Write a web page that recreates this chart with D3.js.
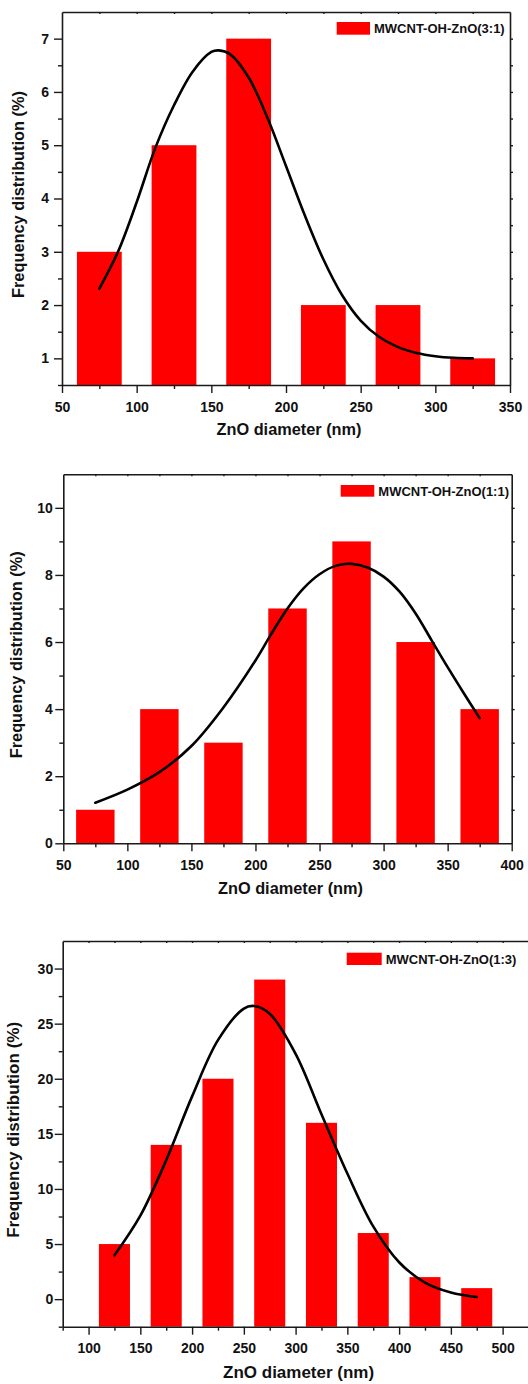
<!DOCTYPE html>
<html>
<head>
<meta charset="utf-8">
<script src="https://cdn.jsdelivr.net/npm/d3@7"></script>
<style>
  body { margin: 0; background: #fff; }
  svg { display: block; }
  text { font-family: "Liberation Sans", Arial, sans-serif; font-weight: bold; fill: #111; }
</style>
</head>
<body>
<svg id="chart" width="528" height="1384"></svg>
<script>
// histogram bins (centre of each 30 nm bin) and frequencies
const binWidth = 30;

const bins1 = [75, 125, 175, 225, 275, 325];
const freq1 = [3, 5, 7, 2, 2, 1];
const fitX1 = [75, 87.5, 100, 112.5, 125, 137.5, 150, 155, 162.5, 175, 187.5, 200, 212.5, 225, 237.5, 250, 262.5, 275, 287.5, 300, 312.5, 325];
const fitY1 = [2.31, 3.0, 3.93, 4.95, 5.75, 6.38, 6.75, 6.78, 6.71, 6.27, 5.52, 4.61, 3.69, 2.86, 2.19, 1.71, 1.40, 1.21, 1.1, 1.04, 1.01, 1.0];

const bins2 = [75, 125, 175, 225, 275, 325, 375];
const freq2 = [1, 4, 3, 7, 9, 6, 4];
const fitX2 = [75, 100, 125, 150, 175, 200, 212.5, 225, 237.5, 250, 262.5, 275, 287.5, 300, 312.5, 325, 337.5, 350, 362.5, 375];
const fitY2 = [1.21, 1.6, 2.12, 2.9, 4.05, 5.45, 6.25, 7.0, 7.6, 8.02, 8.27, 8.33, 8.22, 7.95, 7.5, 6.85, 6.05, 5.25, 4.48, 3.73];

const bins3 = [125, 175, 225, 275, 325, 375, 425, 475];
const freq3 = [5, 14, 20, 29, 16, 6, 2, 1];
const fitX3 = [125, 150, 175, 200, 225, 250, 260, 275, 300, 325, 350, 375, 400, 425, 450, 475];
const fitY3 = [3.98, 7.57, 12.61, 18.4, 23.5, 26.37, 26.6, 25.9, 22.26, 16.78, 11.4, 6.6, 3.35, 1.5, 0.6, 0.19];

const xTicks1 = [50, 100, 150, 200, 250, 300, 350];
const yTicks1 = [1, 2, 3, 4, 5, 6, 7];
const xTicks2 = [50, 100, 150, 200, 250, 300, 350, 400];
const yTicks2 = [0, 2, 4, 6, 8, 10];
const xTicks3 = [100, 150, 200, 250, 300, 350, 400, 450, 500];
const yTicks3 = [0, 5, 10, 15, 20, 25, 30];

const legendLabels = ['MWCNT-OH-ZnO(3:1)', 'MWCNT-OH-ZnO(1:1)', 'MWCNT-OH-ZnO(1:3)'];
const xTitle = 'ZnO diameter (nm)';
const yTitle = 'Frequency distribution (%)';

const font = '"Liberation Sans", Arial, sans-serif';
const axisColor = '#1a1a1a';

const panels = [
  { bins: bins1, freq: freq1, fitX: fitX1, fitY: fitY1, xTicks: xTicks1, yTicks: yTicks1,
    xDomain: [50, 350], yDomain: [0.5, 7.5], yStep: 0.5, legend: legendLabels[0],
    left: 62, right: 510, top: 12, bottom: 385, labelGap: 13,
    leg: { x: 336.7, y: 22, w: 33.3, h: 12.7, tx: 374, ty: 33 },
    yTitleX: 24, yTitleLen: 207, xTitleY: 435, xTitleLen: 145 },
  { bins: bins2, freq: freq2, fitX: fitX2, fitY: fitY2, xTicks: xTicks2, yTicks: yTicks2,
    xDomain: [50, 400], yDomain: [0, 11], yStep: 1, legend: legendLabels[1],
    left: 63.3, right: 511.7, top: 474.3, bottom: 843.3, labelGap: 10.5,
    leg: { x: 340.7, y: 485, w: 33.6, h: 11.7, tx: 378.3, ty: 496 },
    yTitleX: 22, yTitleLen: 207, xTitleY: 894, xTitleLen: 145 },
  { bins: bins3, freq: freq3, fitX: fitX3, fitY: fitY3, xTicks: xTicks3, yTicks: yTicks3,
    xDomain: [75, 525], yDomain: [-2.5, 32.5], yStep: 2.5, legend: legendLabels[2],
    left: 62.7, right: 528.5, top: 941, bottom: 1326.7, labelGap: 9.5,
    leg: { x: 346.7, y: 952.7, w: 35, h: 12.3, tx: 385.7, ty: 964 },
    yTitleX: 19, yTitleLen: 216, xTitleY: 1378, xTitleLen: 151 }
];

const svg = d3.select('#chart');

function styleAxis(g, size) {
  g.attr('font-size', size).attr('font-family', font).attr('font-weight', 'bold');
  g.selectAll('.domain').attr('stroke', axisColor).attr('stroke-width', 1.6);
  g.selectAll('.tick line').attr('stroke', axisColor).attr('stroke-width', 1.4);
  g.selectAll('.tick text').attr('fill', '#111');
}

panels.forEach((p) => {
  const x = d3.scaleLinear().domain(p.xDomain).range([p.left, p.right]);
  const y = d3.scaleLinear().domain(p.yDomain).range([p.bottom, p.top]);
  const g = svg.append('g');

  // bars
  g.append('g')
    .selectAll('rect')
    .data(d3.zip(p.bins, p.freq))
    .join('rect')
    .attr('x', (d) => x(d[0] - binWidth / 2))
    .attr('width', (d) => x(d[0] + binWidth / 2) - x(d[0] - binWidth / 2))
    .attr('y', (d) => y(d[1]))
    .attr('height', (d) => y(p.yDomain[0]) - y(d[1]))
    .attr('fill', '#ff0000');

  // fitted curve
  const line = d3.line()
    .x((d) => x(d[0]))
    .y((d) => y(d[1]))
    .curve(d3.curveCatmullRom.alpha(0.5));

  g.append('path')
    .datum(d3.zip(p.fitX, p.fitY))
    .attr('d', line)
    .attr('fill', 'none')
    .attr('stroke', '#000')
    .attr('stroke-width', 2.6)
    .attr('stroke-linecap', 'round');

  const xMinor = d3.range(p.xDomain[0], p.xDomain[1] + 0.01, 25).filter((v) => !p.xTicks.includes(v));
  const yAll = d3.range(p.yDomain[0], p.yDomain[1] - 0.01, p.yStep);
  const yMinor = yAll.filter((v) => !p.yTicks.some((t) => Math.abs(t - v) < 1e-6));

  // bottom axis
  const bx = g.append('g')
    .attr('transform', `translate(0,${p.bottom})`)
    .call(d3.axisBottom(x).tickValues(p.xTicks).tickFormat(d3.format('d')).tickSize(8).tickSizeOuter(0).tickPadding(8.7));
  styleAxis(bx, 14);
  const bxm = g.append('g')
    .attr('transform', `translate(0,${p.bottom})`)
    .call(d3.axisBottom(x).tickValues(xMinor).tickSize(4).tickFormat(''));
  bxm.select('.domain').remove();
  styleAxis(bxm, 14);

  // left axis
  const ly = g.append('g')
    .attr('transform', `translate(${p.left},0)`)
    .call(d3.axisLeft(y).tickValues(p.yTicks).tickFormat(d3.format('d')).tickSize(8).tickSizeOuter(0).tickPadding(p.labelGap - 8));
  styleAxis(ly, 14);
  const lym = g.append('g')
    .attr('transform', `translate(${p.left},0)`)
    .call(d3.axisLeft(y).tickValues(yMinor).tickSize(4).tickFormat(''));
  lym.select('.domain').remove();
  styleAxis(lym, 14);

  // top axis, small inward ticks
  const tx = g.append('g')
    .attr('transform', `translate(0,${p.top})`)
    .call(d3.axisBottom(x).tickValues(d3.range(p.xDomain[0] + 25, p.xDomain[1], 25)).tickSize(2).tickSizeOuter(0).tickFormat(''));
  styleAxis(tx, 14);

  // right axis
  const ry = g.append('g')
    .attr('transform', `translate(${p.right},0)`)
    .call(d3.axisRight(y).tickValues(yAll.slice(1)).tickSize(3).tickSizeOuter(0).tickFormat(''));
  styleAxis(ry, 14);

  // legend
  g.append('rect')
    .attr('x', p.leg.x).attr('y', p.leg.y)
    .attr('width', p.leg.w).attr('height', p.leg.h)
    .attr('fill', '#ff0000');
  g.append('text')
    .attr('x', p.leg.tx).attr('y', p.leg.ty)
    .attr('font-size', 13)
    .text(p.legend);

  // axis titles
  g.append('text')
    .attr('x', (p.left + p.right) / 2 + 3)
    .attr('y', p.xTitleY)
    .attr('text-anchor', 'middle')
    .attr('font-size', 16)
    .attr('textLength', p.xTitleLen)
    .attr('lengthAdjust', 'spacingAndGlyphs')
    .text(xTitle);

  g.append('text')
    .attr('transform', `translate(${p.yTitleX},${(p.top + p.bottom) / 2 - 4}) rotate(-90)`)
    .attr('text-anchor', 'middle')
    .attr('font-size', 16)
    .attr('textLength', p.yTitleLen)
    .attr('lengthAdjust', 'spacingAndGlyphs')
    .text(yTitle);
});
</script>
</body>
</html>
